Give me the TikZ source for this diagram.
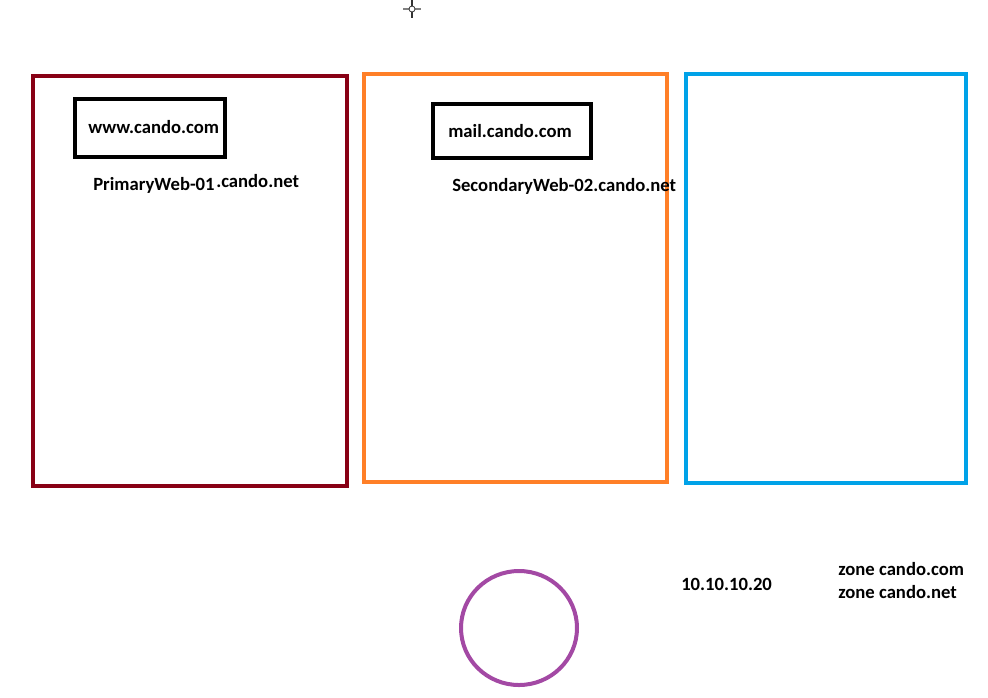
\documentclass[tikz,border=0pt]{standalone}
\usepackage{fontspec}
\setmainfont{Carlito}
\usepackage{xcolor}
\usetikzlibrary{positioning}
\definecolor{webred}{HTML}{880015}
\definecolor{weborange}{HTML}{FF7F27}
\definecolor{webblue}{HTML}{00A2E8}
\definecolor{dnspurple}{HTML}{A349A4}
\begin{document}
\begin{tikzpicture}[x=0.75pt,y=-0.75pt,
    zone/.style={line width=3.6pt},
    hostbox/.style={draw=black, line width=3pt, minimum width=113pt, minimum height=43pt, inner sep=0pt},
    label/.style={font=\bfseries\fontsize{14}{16}\selectfont, inner sep=0pt, anchor=west}]
\useasboundingbox (0,0) rectangle (988,697);
% Server panels
\draw[zone, webred] (33,76) rectangle (347,486);
\draw[zone, weborange] (364,74) rectangle (667,482);
\draw[zone, webblue] (686,74) rectangle (966,483);

% Host names
\node[hostbox] (www) at (150,128) {};
\node[label] (wwwtext) at (88,127) {www.cando.com};
\node[hostbox, minimum width=118pt, minimum height=41pt] (mail) at (512,131) {};
\node[label] (mailtext) at (448,131) {mail.cando.com};

% Server labels
\node[label] (primary) at (93,185) {PrimaryWeb-01};
\node[label] (primarynet) at (216,181) {.cando.net};
\node[label] (secondary) at (452,186) {SecondaryWeb-02.cando.net};

% DNS server
\draw[dnspurple, line width=3pt] (519,628) ellipse (58 and 57);
\node[label] (ip) at (681,584) {10.10.10.20};
\node[label] (zonecom) at (838,569) {zone cando.com};
\node[label] (zonenet) at (838,592) {zone cando.net};

% Cursor
\draw[gray, line width=0.8pt] (403,9) -- (421,9);
\draw[black!80, line width=0.8pt] (412,0) -- (412,18);
\draw[black!80, fill=white, line width=0.6pt] (412,9) circle (3);
\end{tikzpicture}
\end{document}
